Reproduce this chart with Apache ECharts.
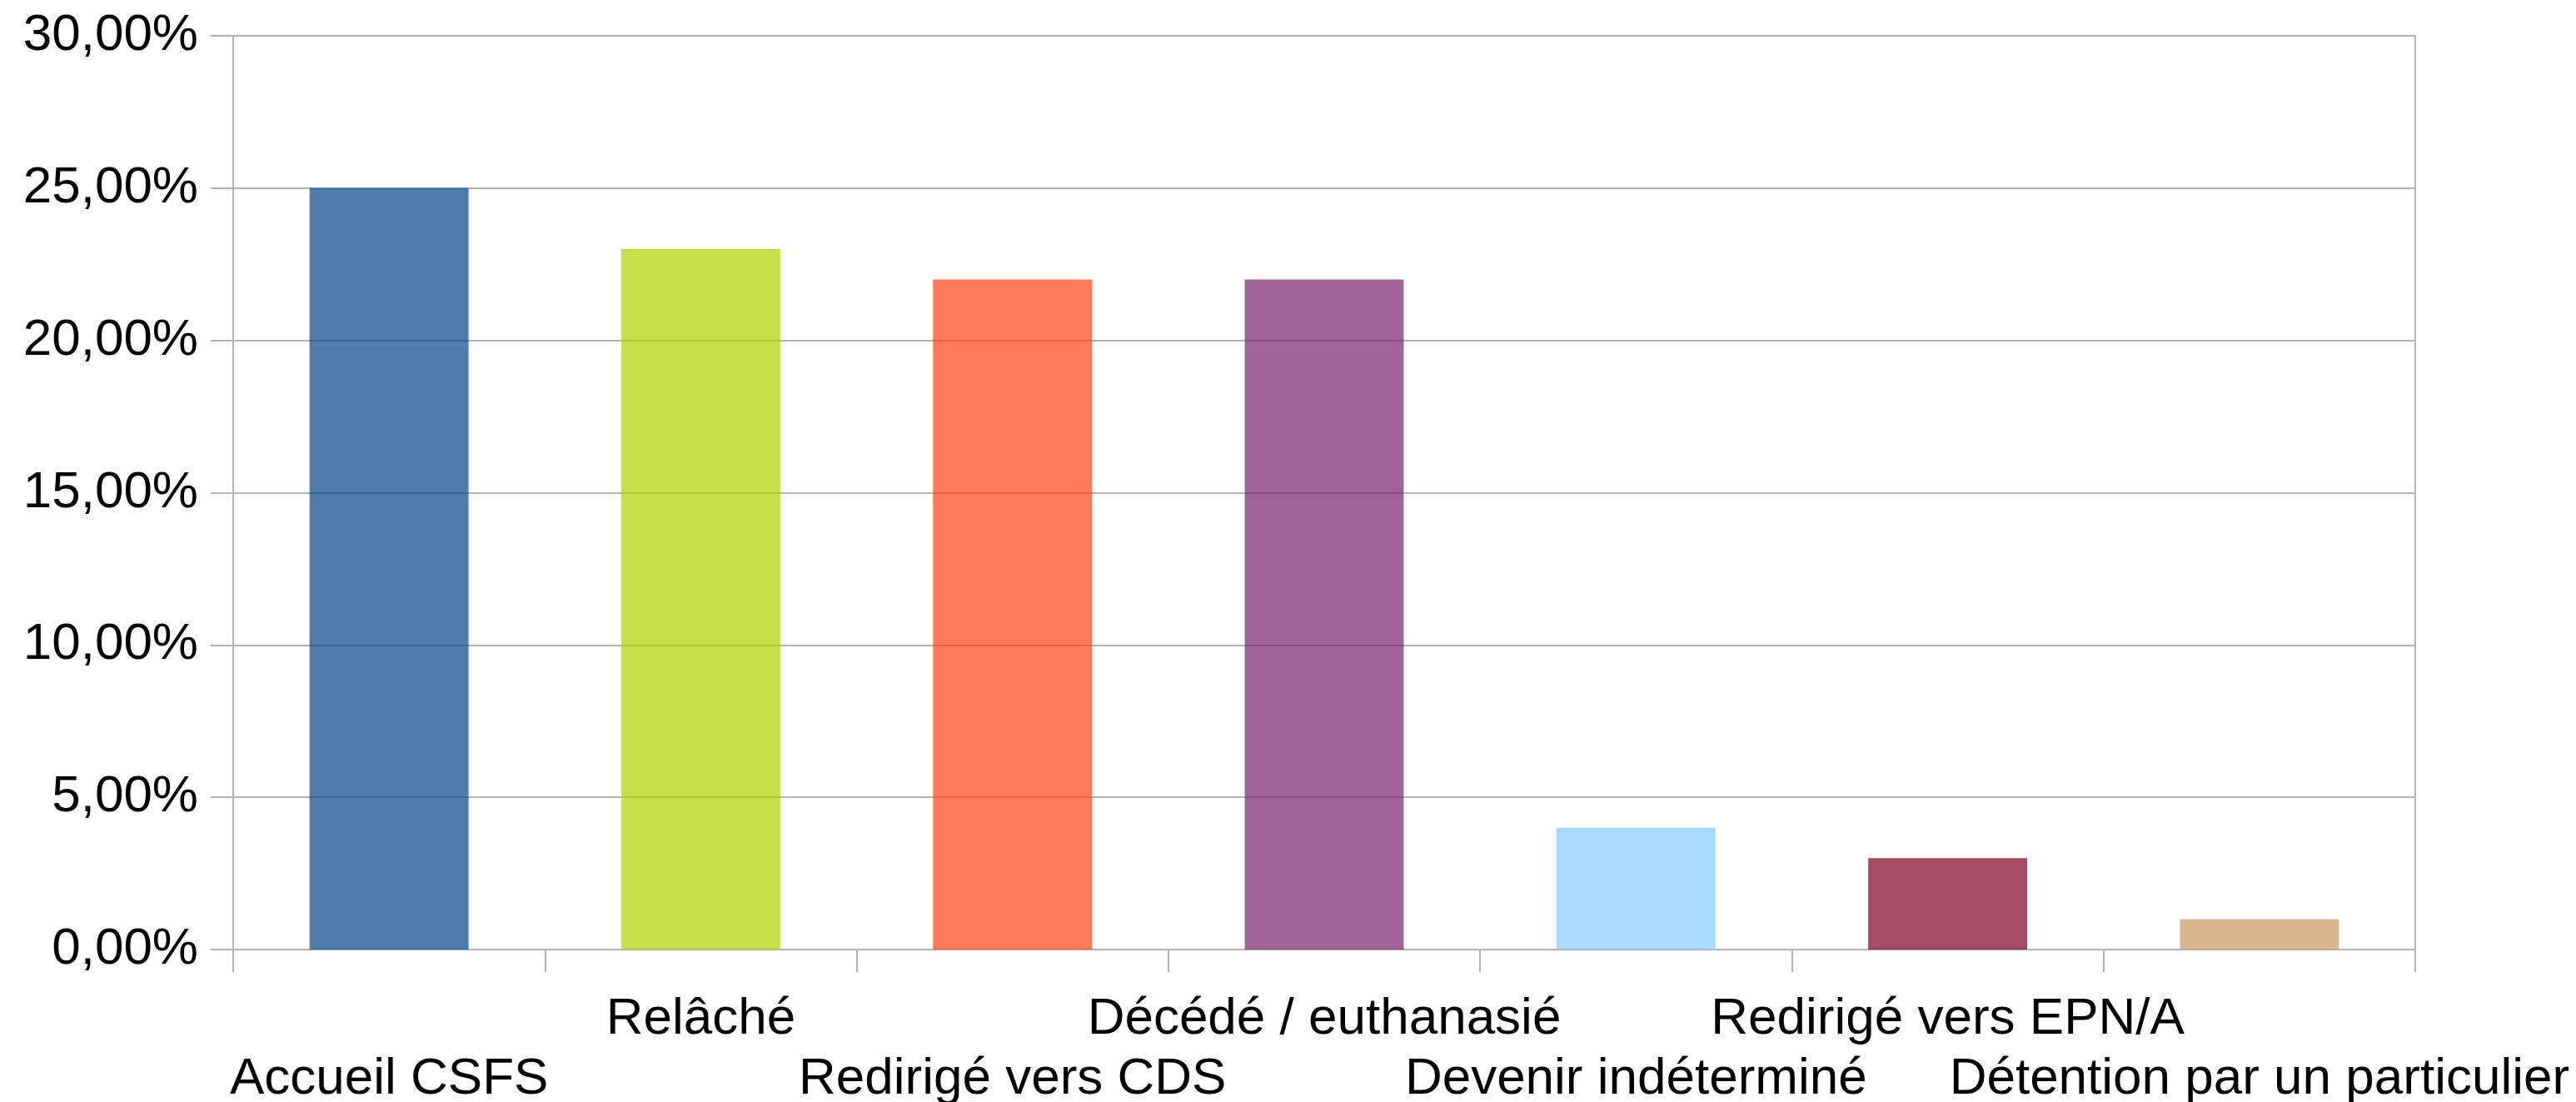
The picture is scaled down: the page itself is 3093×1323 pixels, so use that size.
<!DOCTYPE html>
<html>
<head>
<meta charset="utf-8">
<script src="https://cdn.jsdelivr.net/npm/echarts@6/dist/echarts.min.js"></script>
<style>
  html, body { margin: 0; padding: 0; background: #ffffff; }
  #chart { width: 3093px; height: 1323px; }
</style>
</head>
<body>
<div id="chart"></div>
<script>
const categories = [
  "Accueil CSFS",
  "Relâché",
  "Redirigé vers CDS",
  "Décédé / euthanasié",
  "Devenir indéterminé",
  "Redirigé vers EPN/A",
  "Détention par un particulier"
];
const values = [25, 23, 22, 22, 4, 3, 1];
const yTicks = [0, 5, 10, 15, 20, 25, 30];

const palette = [
  "rgba(0,69,134,0.7)",
  "rgba(174,207,0,0.7)",
  "rgba(255,66,14,0.7)",
  "rgba(118,34,105,0.7)",
  "rgba(131,202,255,0.7)",
  "rgba(126,0,33,0.7)",
  "rgba(201,151,96,0.7)"
];

const FONT = "'Liberation Sans', Arial, sans-serif";
const GRID = "#b3b3b3";

const chart = echarts.init(document.getElementById('chart'), null, { renderer: 'canvas' });
chart.setOption({
  backgroundColor: '#ffffff',
  animation: false,
  grid: { left: 280, right: 193, top: 43, bottom: 183, containLabel: false, outerBoundsMode: 'none' },
  xAxis: {
    type: 'category',
    data: categories,
    boundaryGap: true,
    axisLine: { show: true, lineStyle: { color: GRID, width: 2 } },
    axisTick: { show: true, length: 27, interval: 0, lineStyle: { color: GRID, width: 2 } },
    splitLine: { show: false },
    axisLabel: {
      interval: 0,
      hideOverlap: false,
      margin: 48,
      color: '#000000',
      fontFamily: FONT,
      fontSize: 62,
      lineHeight: 72,
      formatter: function (v, i) { return i % 2 === 0 ? '\n' + v : v; }
    }
  },
  yAxis: [{
    type: 'value',
    min: yTicks[0],
    max: yTicks[yTicks.length - 1],
    interval: yTicks[1] - yTicks[0],
    axisLine: { show: true, lineStyle: { color: GRID, width: 2 } },
    axisTick: { show: true, length: 27, lineStyle: { color: GRID, width: 2 } },
    splitLine: { show: true, lineStyle: { color: GRID, width: 2 } },
    axisLabel: {
      margin: 42,
      color: '#000000',
      fontFamily: FONT,
      fontSize: 62,
      formatter: function (v) { return v.toFixed(2).replace('.', ',') + '%'; }
    }
  }, {
    type: 'value',
    position: 'right',
    min: yTicks[0],
    max: yTicks[yTicks.length - 1],
    interval: yTicks[1] - yTicks[0],
    axisLine: { show: true, lineStyle: { color: GRID, width: 2 } },
    axisTick: { show: false },
    splitLine: { show: false },
    axisLabel: { show: false }
  }],
  series: [{
    type: 'bar',
    barWidth: '51%',
    data: values.map((v, i) => ({ value: v, itemStyle: { color: palette[i] } }))
  }]
});
</script>
</body>
</html>
